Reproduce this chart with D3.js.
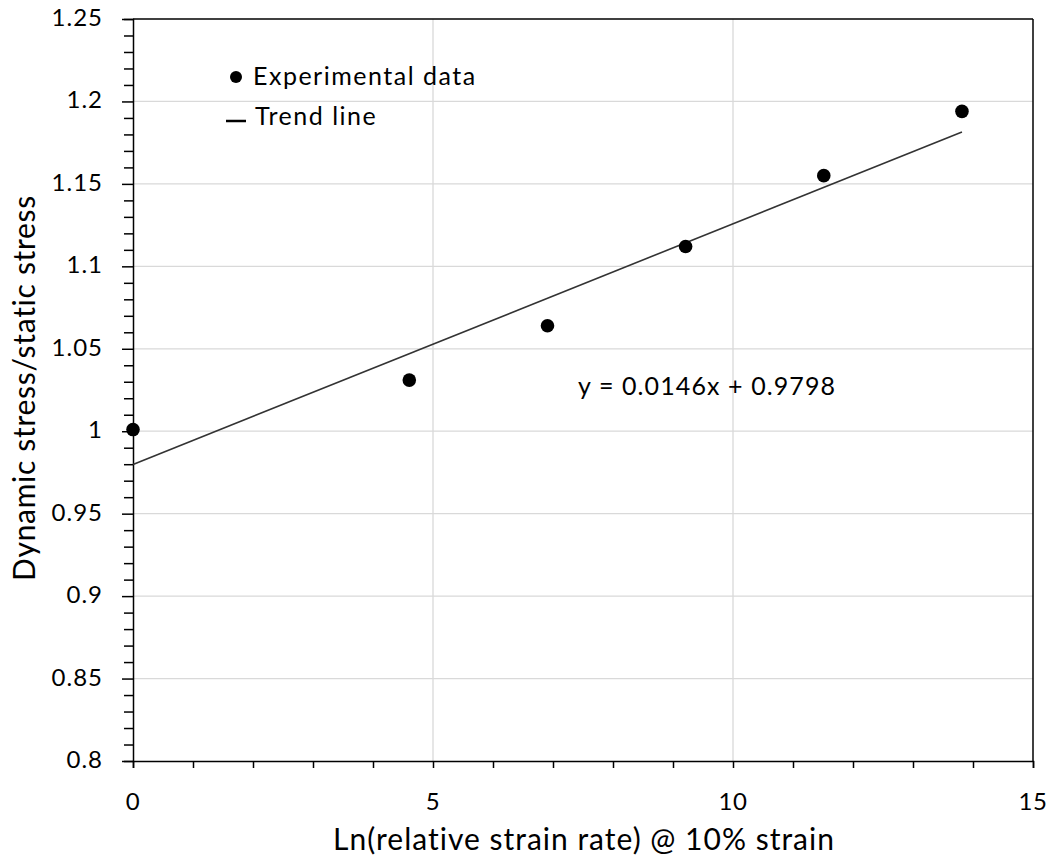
<!DOCTYPE html>
<html><head><meta charset="utf-8">
<script src="https://cdn.jsdelivr.net/npm/d3@7"></script>
<style>body{margin:0;background:#fff;} text{font-family:Lato, "Open Sans", sans-serif;fill:#000;}</style>
</head><body>
<svg id="c" width="1054" height="858"></svg>
<script>
const xData = [0, 4.605, 6.908, 9.210, 11.513, 13.816];
const yData = [1.001, 1.031, 1.064, 1.112, 1.155, 1.194];
const slope = 0.0146, intercept = 0.9798;
const xTicks = [0, 5, 10, 15];
const yTicks = [0.8, 0.85, 0.9, 0.95, 1, 1.05, 1.1, 1.15, 1.2, 1.25];
const xTitle = "Ln(relative strain rate) @ 10% strain";
const yTitle = "Dynamic stress/static stress";
const legendLabels = ["Experimental data", "Trend line"];
const eqLabel = "y = 0.0146x + 0.9798";

const svg = d3.select("#c");
const L = 133, R = 1033, T = 19, B = 761;
const x = d3.scaleLinear().domain([0, 15]).range([L, R]);
const y = d3.scaleLinear().domain([0.8, 1.25]).range([B, T]);

// gridlines
svg.append("g").selectAll("line").data(yTicks.slice(1, -1)).join("line")
  .attr("x1", L).attr("x2", R).attr("y1", d => y(d)).attr("y2", d => y(d))
  .attr("stroke", "#d9d9d9").attr("stroke-width", 1.3);
svg.append("g").selectAll("line").data(xTicks.slice(1, -1)).join("line")
  .attr("y1", T).attr("y2", B).attr("x1", d => x(d)).attr("x2", d => x(d))
  .attr("stroke", "#d9d9d9").attr("stroke-width", 1.3);

// plot border (top/right)
svg.append("line").attr("x1", L).attr("x2", R).attr("y1", T).attr("y2", T).attr("stroke", "#000").attr("stroke-width", 1.5);
svg.append("line").attr("x1", R).attr("x2", R).attr("y1", T).attr("y2", B).attr("stroke", "#000").attr("stroke-width", 1.5);

// axes
const xAxis = d3.axisBottom(x).tickValues(d3.range(0, 16, 1)).tickSize(7).tickFormat("");
const gx = svg.append("g").attr("transform", `translate(0,${B})`).call(xAxis);
const yAxis = d3.axisLeft(y).tickValues(d3.range(0, 46).map(i => 0.8 + i * 0.01)).tickSize(9).tickFormat("");
const gy = svg.append("g").attr("transform", `translate(${L},0)`).call(yAxis);
[gx, gy].forEach(g => {
  g.select(".domain").attr("stroke", "#000").attr("stroke-width", 1.5);
  g.selectAll(".tick line").attr("stroke", "#000").attr("stroke-width", 1.5);
});
gy.selectAll(".tick").filter((d, i) => i % 5 === 0).select("line").attr("x2", -11);

// tick labels
svg.append("g").selectAll("text").data(xTicks).join("text")
  .attr("x", d => x(d)).attr("y", 810).attr("text-anchor", "middle")
  .attr("font-size", 24).attr("letter-spacing", 0.5).text(d => d);
svg.append("g").selectAll("text").data(yTicks).join("text")
  .attr("x", 103).attr("y", d => y(d) + 7).attr("text-anchor", "end")
  .attr("font-size", 24).attr("letter-spacing", 1).text(d => d);

// titles
svg.append("text").attr("x", 584).attr("y", 850).attr("text-anchor", "middle")
  .attr("font-size", 30).attr("letter-spacing", 1).text(xTitle);
svg.append("text").attr("transform", `translate(35,${388}) rotate(-90)`).attr("text-anchor", "middle")
  .attr("font-size", 30).attr("letter-spacing", 0.7).text(yTitle);

// trend line
const xMax = d3.max(xData);
svg.append("line")
  .attr("x1", x(0)).attr("y1", y(intercept))
  .attr("x2", x(xMax)).attr("y2", y(slope * xMax + intercept))
  .attr("stroke", "#333").attr("stroke-width", 1.6);

// points
svg.append("g").selectAll("circle").data(xData).join("circle")
  .attr("cx", d => x(d)).attr("cy", (d, i) => y(yData[i])).attr("r", 6.8).attr("fill", "#000");

// legend
svg.append("circle").attr("cx", 236).attr("cy", 77).attr("r", 6).attr("fill", "#000");
svg.append("text").attr("x", 253).attr("y", 85).attr("font-size", 25).attr("letter-spacing", 1.5).text(legendLabels[0]);
svg.append("line").attr("x1", 226).attr("x2", 246).attr("y1", 121).attr("y2", 121).attr("stroke", "#000").attr("stroke-width", 2.5);
svg.append("text").attr("x", 255).attr("y", 125).attr("font-size", 25).attr("letter-spacing", 1.5).text(legendLabels[1]);

// equation
svg.append("text").attr("x", 578).attr("y", 395).attr("font-size", 25).attr("letter-spacing", 1.1).text(eqLabel);
</script>
</body></html>
